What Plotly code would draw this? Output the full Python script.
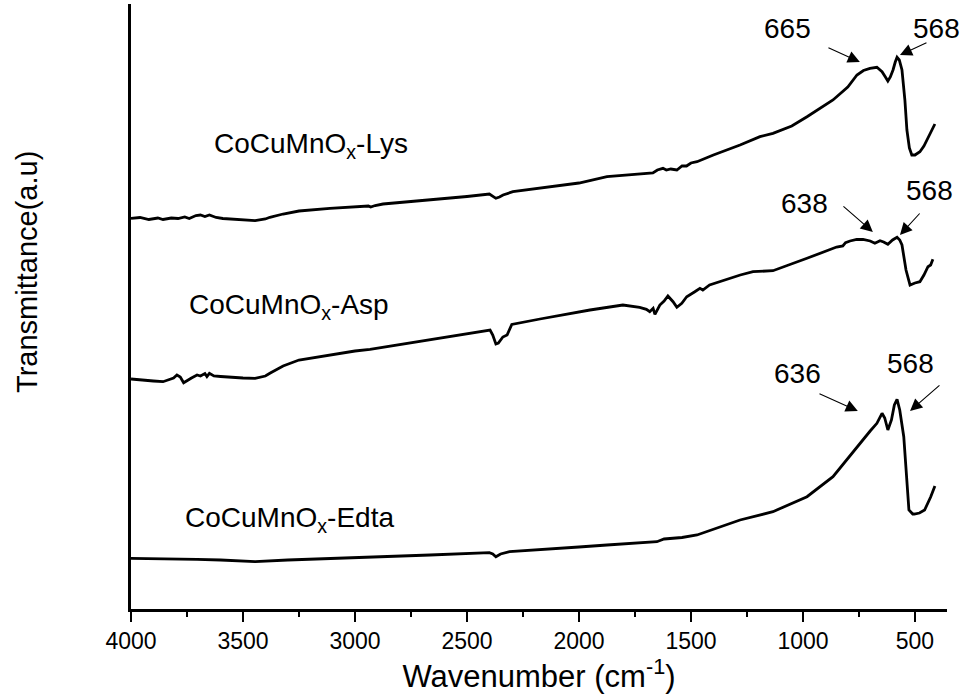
import plotly.graph_objects as go

# ---- data (wavenumber in cm-1, transmittance in arbitrary offset units) ----
lys_wn = [4000, 3960, 3920, 3880, 3857, 3820, 3790, 3760, 3740, 3710, 3690, 3670, 3650, 3620, 3590, 3560,
          3500, 3446, 3400, 3380, 3321, 3250, 3112, 3000, 2940, 2930, 2910, 2875, 2665, 2500, 2400, 2385,
          2371, 2355, 2339, 2295, 2200, 2130, 2000, 1875, 1800, 1700, 1670, 1650, 1625, 1610, 1590, 1563,
          1540, 1520, 1500, 1473, 1400, 1281, 1192, 1134, 1050, 982, 866, 800, 759, 730, 701, 670, 647,
          632, 621, 610, 598, 588, 580, 570, 558, 545, 536, 525, 514, 500, 478, 460, 447, 430, 411]
lys_t = [390.7, 391.5, 389.5, 391, 389.5, 391, 390.5, 392, 390.5, 393.5, 394, 392.5, 394, 391.5, 390.5, 390,
         389, 388.3, 390, 391.7, 395, 398, 400.7, 402, 403, 402, 403.5, 405, 409, 412.5, 415, 413,
         410.7, 412, 414, 417.3, 420, 422.3, 426, 432.3, 433.5, 435, 436, 439, 440.7, 439, 440, 439,
         443, 443, 446, 447.3, 454, 464, 472.3, 475.7, 483, 492.3, 509, 522, 534, 538.5, 540.7, 541.7, 537.3,
         532, 528, 532, 539, 547, 551.7, 549, 539, 509, 479, 461, 454, 454, 457.3, 463, 469, 476, 485]

asp_wn = [4000, 3960, 3930, 3900, 3857, 3830, 3810, 3795, 3780, 3765, 3750, 3730, 3705, 3690, 3670, 3661,
          3650, 3630, 3600, 3558, 3500, 3446, 3400, 3380, 3321, 3250, 3112, 3000, 2933, 2813, 2600, 2397,
          2385, 2371, 2360, 2340, 2321, 2300, 2174, 2050, 1996, 1951, 1804, 1760, 1729, 1699, 1684, 1669,
          1661, 1639, 1620, 1603, 1580, 1563, 1541, 1519, 1505, 1483, 1460, 1447, 1417, 1372, 1339, 1280,
          1223, 1134, 982, 850, 822, 810, 790, 760, 732, 700, 679, 656, 640, 621, 600, 580, 568, 558, 540,
          522, 500, 478, 460, 442, 430, 420]
asp_t = [230, 229.5, 229, 228, 227.3, 229, 231, 234, 232, 226.3, 228, 231, 234, 233, 235.5, 232.5,
         235.7, 233, 232.5, 231.7, 231, 230.7, 233, 235.7, 243, 249, 254, 258, 259.7, 264, 272, 279,
         274, 265, 266, 272, 274, 284.5, 290, 295, 297.3, 299, 304, 303, 301.7, 299.7, 297.3, 300.7,
         294.7, 304, 308, 313, 307.3, 301.7, 305.7, 312.3, 314, 317.3, 320.7, 319, 324, 327.3, 329, 334,
         337.3, 338.3, 350.7, 362, 363, 366.3, 368, 369.5, 369.7, 368, 365.7, 368.3, 367, 364.7, 369, 371.7, 369, 364, 339,
         324, 326, 327.3, 334, 342.3, 344, 349.7]

edta_wn = [4000, 3900, 3800, 3705, 3600, 3446, 3300, 3112, 2900, 2665, 2400, 2385, 2371, 2350, 2310, 2130,
           2000, 1875, 1700, 1652, 1620, 1580, 1540, 1473, 1281, 1134, 982, 866, 759, 700, 670, 647, 635,
           621, 605, 592, 580, 568, 550, 535, 527, 510, 503, 480, 457, 430, 411]
edta_t = [50.7, 50.5, 50, 49.7, 49, 47.3, 49, 50.7, 52.5, 54, 56.3, 55, 52.3, 55, 57.3, 59.7,
          62, 64, 66.5, 67.3, 70, 70.7, 71.5, 74, 89, 97.3, 112.3, 132.3, 162.3, 178, 185.7, 195.7, 191,
          179, 189, 204, 209.7, 199, 172.3, 119, 99, 95, 95, 96, 99, 112, 123]

series_names = ["CoCuMnO<sub>x</sub>-Lys", "CoCuMnO<sub>x</sub>-Asp", "CoCuMnO<sub>x</sub>-Edta"]
series_label_x = [3638, 3750, 3768]
series_label_y = [464, 303, 90]

peak_labels = ["665", "568", "638", "568", "636", "568"]
peak_text_x = [1067, 402, 991, 433, 1023, 522]
peak_text_y = [581, 581, 406, 419, 236, 246]
arrow_tail_x = [893, 442, 826, 473, 933, 384]
arrow_tail_y = [562, 567, 404, 397, 216, 225]
arrow_head_x = [746, 567, 688, 567, 755, 522]
arrow_head_y = [547, 554, 377, 374, 198, 198]

FONT = "Liberation Sans, Arial, sans-serif"

fig = go.Figure()
for wn, t in [(lys_wn, lys_t), (asp_wn, asp_t), (edta_wn, edta_t)]:
    fig.add_trace(go.Scatter(x=wn, y=t, mode="lines",
                             line=dict(color="black", width=2.8),
                             showlegend=False, hoverinfo="skip"))

annotations = []
for name, x, y in zip(series_names, series_label_x, series_label_y):
    annotations.append(dict(x=x, y=y, xref="x", yref="y", text=name, showarrow=False,
                            xanchor="left", yanchor="middle",
                            font=dict(family=FONT, size=28, color="black")))
for lab, x, y in zip(peak_labels, peak_text_x, peak_text_y):
    annotations.append(dict(x=x, y=y, xref="x", yref="y", text=lab, showarrow=False,
                            xanchor="center", yanchor="middle",
                            font=dict(family=FONT, size=28, color="black")))
for tx, ty, hx, hy in zip(arrow_tail_x, arrow_tail_y, arrow_head_x, arrow_head_y):
    annotations.append(dict(x=hx, y=hy, ax=tx, ay=ty, xref="x", yref="y", axref="x", ayref="y",
                            text="", showarrow=True, arrowhead=2, arrowsize=2.2, arrowwidth=1.1,
                            arrowcolor="black"))
# y-axis title (placed above the plot-area centre, as in the original)
annotations.append(dict(x=-0.1275, y=0.557, xref="paper", yref="paper", text="Transmittance(a.u)",
                        textangle=-90, showarrow=False, xanchor="center", yanchor="middle",
                        font=dict(family=FONT, size=29, color="black")))

fig.update_layout(
    width=965, height=700,
    margin=dict(l=131, r=18, t=4, b=91),
    paper_bgcolor="white", plot_bgcolor="white",
    font=dict(family=FONT, color="black"),
    annotations=annotations,
    xaxis=dict(
        range=[4000, 357], showgrid=False, zeroline=False,
        showline=True, linecolor="black", linewidth=2.5,
        ticks="outside", ticklen=10, tickwidth=2.2, tickcolor="black",
        tick0=0, dtick=500,
        tickfont=dict(family=FONT, size=23, color="black"),
        minor=dict(ticks="outside", ticklen=5, tickwidth=2, tickcolor="black", dtick=250, showgrid=False),
        title=dict(text="Wavenumber (cm<sup>-1</sup>)", font=dict(family=FONT, size=31, color="black"),
                   standoff=6),
    ),
    yaxis=dict(
        range=[0, 605], showgrid=False, zeroline=False,
        showline=True, linecolor="black", linewidth=2.5,
        ticks="", showticklabels=False,
    ),
)

fig.write_html("out.html", config={"displayModeBar": False},
               post_script="document.body.style.margin='0';document.body.style.overflow='hidden';")
